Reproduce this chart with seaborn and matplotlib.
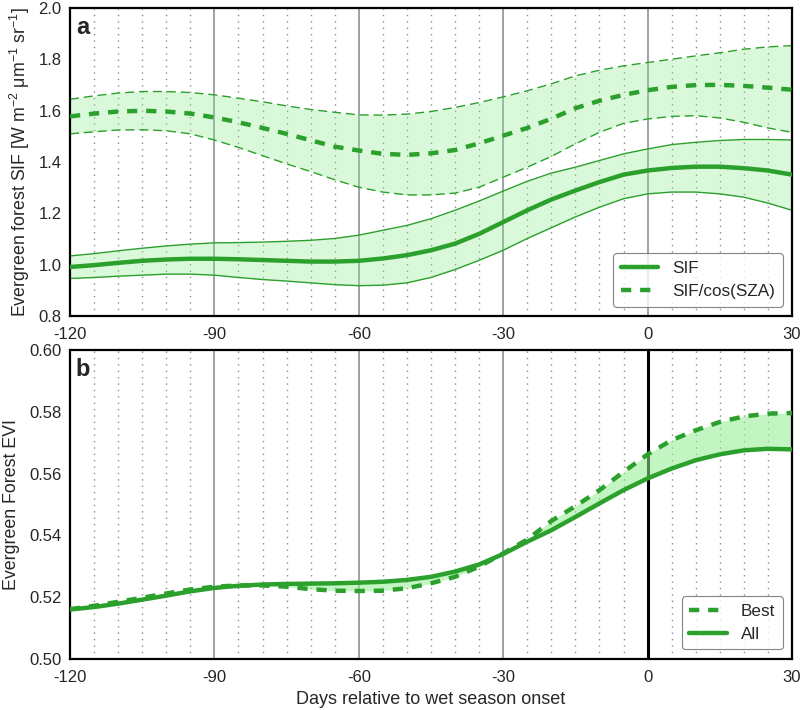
import numpy as np
import pandas as pd
import matplotlib
matplotlib.use("Agg")
import matplotlib.pyplot as plt
import seaborn as sns

# ---------------- data ----------------
days = list(range(-120, 31, 5))

sif_mean = [0.991, 0.998, 1.007, 1.015, 1.020, 1.023, 1.023, 1.021, 1.018, 1.015, 1.012,
            1.012, 1.015, 1.024, 1.037, 1.056, 1.082, 1.120, 1.166, 1.212, 1.254,
            1.289, 1.322, 1.351, 1.367, 1.377, 1.382, 1.382, 1.376, 1.367, 1.351]
sif_upper = [1.034, 1.043, 1.054, 1.064, 1.073, 1.080, 1.085, 1.086, 1.088, 1.091, 1.095,
             1.102, 1.115, 1.134, 1.153, 1.179, 1.212, 1.248, 1.287, 1.325, 1.357,
             1.380, 1.406, 1.432, 1.451, 1.468, 1.477, 1.484, 1.488, 1.488, 1.486]
sif_lower = [0.946, 0.950, 0.955, 0.959, 0.963, 0.963, 0.959, 0.950, 0.942, 0.936, 0.929,
             0.922, 0.918, 0.920, 0.929, 0.950, 0.981, 1.017, 1.056, 1.102, 1.144,
             1.186, 1.224, 1.257, 1.276, 1.283, 1.283, 1.276, 1.263, 1.240, 1.212]

sifcos_mean = [1.578, 1.589, 1.597, 1.600, 1.597, 1.589, 1.574, 1.555, 1.533, 1.510, 1.485,
               1.460, 1.445, 1.432, 1.428, 1.434, 1.447, 1.473, 1.503, 1.533, 1.569,
               1.610, 1.639, 1.662, 1.680, 1.693, 1.700, 1.701, 1.697, 1.690, 1.682]
sifcos_upper = [1.645, 1.658, 1.669, 1.675, 1.675, 1.671, 1.662, 1.649, 1.635, 1.619, 1.605,
                1.594, 1.584, 1.583, 1.587, 1.597, 1.613, 1.632, 1.654, 1.678, 1.705,
                1.736, 1.758, 1.775, 1.788, 1.801, 1.814, 1.826, 1.840, 1.849, 1.854]
sifcos_lower = [1.510, 1.518, 1.525, 1.526, 1.522, 1.510, 1.486, 1.457, 1.425, 1.393, 1.363,
                1.331, 1.302, 1.283, 1.272, 1.272, 1.279, 1.302, 1.341, 1.380, 1.422,
                1.471, 1.516, 1.551, 1.568, 1.578, 1.581, 1.572, 1.555, 1.533, 1.516]

evi_all = [0.5160, 0.5168, 0.5179, 0.5192, 0.5205, 0.5219, 0.5230, 0.5237, 0.5241, 0.5243, 0.5244,
           0.5245, 0.5247, 0.5250, 0.5256, 0.5266, 0.5283, 0.5306, 0.5340, 0.5380, 0.5417,
           0.5460, 0.5504, 0.5547, 0.5585, 0.5617, 0.5644, 0.5663, 0.5676, 0.5681, 0.5679]
evi_best = [0.5161, 0.5172, 0.5185, 0.5198, 0.5212, 0.5225, 0.5234, 0.5238, 0.5238, 0.5234, 0.5226,
            0.5221, 0.5220, 0.5221, 0.5229, 0.5245, 0.5266, 0.5299, 0.5342, 0.5387, 0.5447,
            0.5495, 0.5547, 0.5606, 0.5663, 0.5709, 0.5741, 0.5768, 0.5786, 0.5795, 0.5797]

xticks = [-120, -90, -60, -30, 0, 30]
xticklabels = ["-120", "-90", "-60", "-30", "0", "30"]
yticks_a = [0.8, 1.0, 1.2, 1.4, 1.6, 1.8, 2.0]
yticks_b = [0.50, 0.52, 0.54, 0.56, 0.58, 0.60]

# ---------------- style ----------------
sns.set_style("white")
plt.rcParams['font.family'] = ['Liberation Sans', 'DejaVu Sans']
plt.rcParams['axes.unicode_minus'] = False
plt.rcParams['mathtext.fontset'] = 'custom'
plt.rcParams['mathtext.rm'] = 'Liberation Sans'
plt.rcParams['mathtext.it'] = 'Liberation Sans'

GREEN = '#2ca02c'
GRID = '#7d8b8f'
THICK_DASH = (2.3, 2.0)
THIN_DASH = (6.5, 3.5)

df = pd.DataFrame({
    'day': days,
    'sif': sif_mean, 'sif_up': sif_upper, 'sif_lo': sif_lower,
    'sifc': sifcos_mean, 'sifc_up': sifcos_upper, 'sifc_lo': sifcos_lower,
    'all': evi_all, 'best': evi_best,
})

fig = plt.figure(figsize=(8, 7.1), dpi=100)
ax1 = fig.add_axes([0.0875, 0.555, 0.9025, 0.4335])
ax2 = fig.add_axes([0.0875, 0.072, 0.9025, 0.4345])


def grid(ax, zero_black=False):
    for d in range(-115, 30, 5):
        if d % 30 == 0:
            continue
        ax.axvline(d, color='#8a8a8a', lw=1.0, ls=(0, (1, 3.6)), zorder=0)
    for d in [-90, -60, -30, 0]:
        if d == 0 and zero_black:
            ax.axvline(d, color='black', lw=2.2, zorder=1)
        else:
            ax.axvline(d, color=GRID, lw=1.1, zorder=0)


def style_legend(leg):
    fr = leg.get_frame()
    fr.set_edgecolor('#666666')
    fr.set_linewidth(0.8)


# ---- panel a ----
grid(ax1)
ax1.fill_between(df['day'], df['sif_lo'], df['sif_up'], color='lightgreen', alpha=0.33, lw=0, zorder=1)
ax1.fill_between(df['day'], df['sifc_lo'], df['sifc_up'], color='lightgreen', alpha=0.33, lw=0, zorder=1)
sns.lineplot(data=df, x='day', y='sif_up', ax=ax1, color=GREEN, lw=1.0, zorder=2)
sns.lineplot(data=df, x='day', y='sif_lo', ax=ax1, color=GREEN, lw=1.0, zorder=2)
sns.lineplot(data=df, x='day', y='sifc_up', ax=ax1, color=GREEN, lw=1.0, zorder=2)
sns.lineplot(data=df, x='day', y='sifc_lo', ax=ax1, color=GREEN, lw=1.0, zorder=2)
for ln in ax1.lines[-2:]:
    ln.set_dashes(THIN_DASH)
sns.lineplot(data=df, x='day', y='sif', ax=ax1, color=GREEN, lw=3.2, zorder=3, label='SIF')
sns.lineplot(data=df, x='day', y='sifc', ax=ax1, color=GREEN, lw=3.2, zorder=3, label='SIF/cos(SZA)')
ax1.lines[-1].set_dashes(THICK_DASH)

ax1.set_xlim(-120, 30)
ax1.set_ylim(0.8, 2.0)
ax1.set_xticks(xticks)
ax1.set_xticklabels(xticklabels)
ax1.set_yticks(yticks_a)
ax1.set_xlabel('')
ax1.set_ylabel('Evergreen forest SIF [W m$^{-2}$ \u03bcm$^{-1}$ sr$^{-1}$]', fontsize=12.8, labelpad=5)
ax1.text(0.008, 0.975, 'a', transform=ax1.transAxes, fontsize=17, fontweight='bold', va='top', ha='left')
leg1 = ax1.legend(loc='lower right', fontsize=12.3, handlelength=2.2, frameon=True,
                  borderaxespad=0.55, borderpad=0.45, labelspacing=0.45, handletextpad=0.8)
style_legend(leg1)

# ---- panel b ----
grid(ax2, zero_black=True)
ax2.fill_between(df['day'], df['all'], df['best'], color='lightgreen', alpha=0.55, lw=0, zorder=1)
sns.lineplot(data=df, x='day', y='best', ax=ax2, color=GREEN, lw=3.2, zorder=3, label='Best')
ax2.lines[-1].set_dashes(THICK_DASH)
sns.lineplot(data=df, x='day', y='all', ax=ax2, color=GREEN, lw=3.2, zorder=3, label='All')

ax2.set_xlim(-120, 30)
ax2.set_ylim(0.50, 0.60)
ax2.set_xticks(xticks)
ax2.set_xticklabels(xticklabels)
ax2.set_yticks(yticks_b)
ax2.set_yticklabels([f"{v:.2f}" for v in yticks_b])
ax2.set_xlabel('Days relative to wet season onset', fontsize=13, labelpad=4)
ax2.set_ylabel('Evergreen Forest EVI', fontsize=12.8, labelpad=7)
ax2.text(0.008, 0.975, 'b', transform=ax2.transAxes, fontsize=17, fontweight='bold', va='top', ha='left')
leg2 = ax2.legend(loc='lower right', fontsize=12.3, handlelength=2.2, frameon=True,
                  borderaxespad=0.55, borderpad=0.45, labelspacing=0.45, handletextpad=0.8)
style_legend(leg2)

for ax in (ax1, ax2):
    for s in ax.spines.values():
        s.set_visible(True)
        s.set_color('black')
        s.set_linewidth(1.6)
    ax.tick_params(axis='both', length=0, labelsize=12)
    ax.tick_params(axis='x', pad=8)
    ax.tick_params(axis='y', pad=6)

fig.savefig('out.png', dpi=100)
